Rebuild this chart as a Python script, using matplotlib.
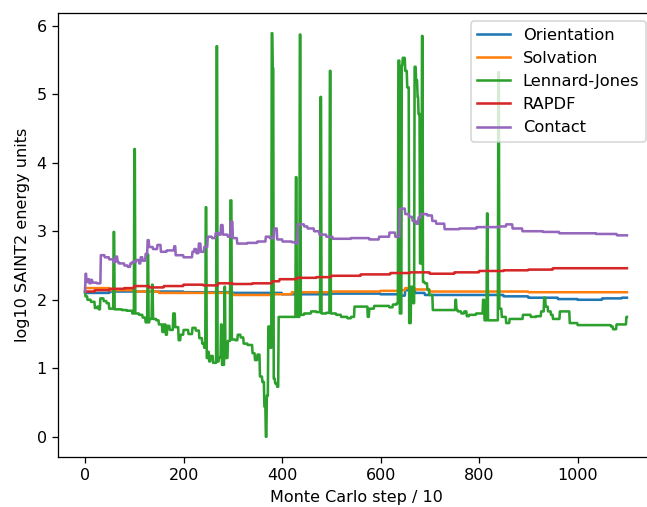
import numpy as np
import matplotlib
matplotlib.use("Agg")
import matplotlib.pyplot as plt

steps = np.arange(0, 1101)

# (step, value) breakpoints; the value is held until the next breakpoint
orientation_bp = [(0, 2.10), (50, 2.12), (200, 2.11), (300, 2.10), (400, 2.08), (500, 2.09),
                  (600, 2.08), (640, 2.06), (650, 2.14), (660, 2.15), (670, 2.10), (690, 2.07),
                  (850, 2.05), (900, 2.03), (960, 2.01), (1000, 2.00), (1050, 2.02), (1090, 2.03)]
solvation_bp = [(0, 2.17), (50, 2.14), (100, 2.12), (150, 2.10), (300, 2.07), (380, 2.08),
                (420, 2.11), (500, 2.12), (600, 2.13), (640, 2.14), (650, 2.17), (670, 2.15),
                (700, 2.12), (900, 2.11)]
lj_bp = [(0, 2.12), (1, 2.05), (5, 2.00), (12, 1.97), (20, 1.88), (25, 1.90), (28, 1.86),
         (31, 2.02), (38, 1.98), (44, 1.95), (49, 1.87), (58, 2.99), (60, 1.86), (75, 1.85),
         (85, 1.84), (96, 1.80), (100, 4.20), (102, 1.80), (110, 1.78), (117, 1.74), (123, 1.67),
         (127, 2.66), (129, 1.67), (131, 1.72), (136, 2.22), (138, 1.72), (145, 1.70), (150, 1.64),
         (157, 1.53), (160, 1.64), (164, 1.49), (167, 1.62), (172, 1.56), (179, 1.80), (183, 1.60),
         (190, 1.41), (194, 1.49), (200, 1.56), (210, 1.50), (218, 1.59), (225, 1.55), (232, 1.44),
         (238, 1.36), (242, 1.30), (245, 3.35), (247, 1.15), (250, 1.24), (252, 1.10), (255, 1.18),
         (260, 1.08), (267, 5.70), (269, 1.10), (272, 1.16), (276, 1.64), (278, 1.05), (283, 2.19),
         (285, 1.15), (290, 1.40), (295, 3.45), (298, 1.42), (305, 1.41), (310, 1.49), (316, 1.45),
         (322, 1.36), (330, 1.34), (340, 1.22), (345, 1.12), (350, 1.20), (355, 0.88), (360, 0.80),
         (364, 0.44), (367, 0.00), (369, 0.60), (372, 1.61), (376, 1.30), (379, 5.89), (381, 5.38),
         (383, 0.85), (386, 0.78), (390, 0.73), (393, 1.75), (428, 3.79), (430, 1.75), (436, 5.87),
         (438, 1.78), (445, 1.80), (459, 1.83), (470, 1.82), (478, 4.96), (480, 1.80), (490, 1.81),
         (497, 5.34), (499, 1.80), (510, 1.78), (520, 1.75), (533, 1.73), (540, 1.75), (547, 1.90),
         (574, 1.75), (577, 1.87), (587, 1.91), (618, 1.89), (625, 1.93), (633, 1.95), (636, 5.49),
         (639, 1.80), (643, 5.42), (645, 5.53), (650, 5.34), (654, 5.10), (658, 1.66), (662, 2.19),
         (666, 1.95), (669, 5.40), (672, 5.20), (675, 4.96), (677, 4.71), (680, 2.53), (684, 5.85),
         (686, 2.26), (690, 2.24), (695, 2.15), (699, 2.07), (706, 1.85), (752, 2.00), (754, 1.85),
         (757, 1.83), (764, 1.80), (770, 1.83), (775, 1.76), (780, 1.78), (794, 1.80), (808, 2.00),
         (811, 1.70), (816, 3.26), (818, 1.70), (839, 5.32), (841, 1.87), (846, 1.75), (855, 1.66),
         (862, 1.72), (880, 1.72), (889, 1.78), (905, 1.75), (916, 1.76), (926, 1.83), (932, 2.03),
         (935, 1.90), (940, 1.83), (946, 1.78), (950, 1.72), (964, 1.83), (984, 1.66), (1000, 1.63),
         (1068, 1.61), (1072, 1.57), (1079, 1.64), (1099, 1.75)]
rapdf_bp = [(0, 2.12), (20, 2.14), (50, 2.16), (80, 2.17), (100, 2.20), (130, 2.18), (160, 2.20),
            (200, 2.22), (240, 2.21), (270, 2.24), (300, 2.23), (340, 2.24), (380, 2.27), (395, 2.30),
            (430, 2.32), (470, 2.33), (500, 2.35), (560, 2.37), (620, 2.39), (660, 2.40), (700, 2.38),
            (750, 2.40), (800, 2.42), (850, 2.43), (900, 2.44), (950, 2.46)]
contact_bp = [(0, 2.12), (1, 2.38), (3, 2.26), (6, 2.30), (9, 2.24), (12, 2.29), (15, 2.25), (24, 2.24),
              (32, 2.65), (40, 2.62), (49, 2.59), (58, 2.55), (62, 2.63), (66, 2.55), (69, 2.53),
              (80, 2.50), (87, 2.48), (92, 2.53), (96, 2.55), (104, 2.58), (110, 2.53), (113, 2.62),
              (117, 2.57), (123, 2.67), (127, 2.87), (130, 2.77), (138, 2.74), (147, 2.80), (154, 2.70),
              (166, 2.72), (181, 2.78), (184, 2.65), (200, 2.62), (218, 2.70), (222, 2.74), (226, 2.68),
              (231, 2.82), (235, 2.70), (242, 2.77), (249, 2.92), (258, 2.90), (265, 2.97), (272, 2.95),
              (276, 3.09), (280, 2.95), (290, 2.92), (296, 3.14), (300, 2.90), (309, 2.82), (330, 2.83),
              (350, 2.85), (367, 2.92), (375, 2.90), (384, 3.04), (390, 2.88), (401, 2.85), (420, 2.84),
              (428, 2.82), (432, 3.10), (445, 3.07), (452, 3.04), (465, 3.00), (476, 2.95), (490, 2.92),
              (503, 2.89), (540, 2.90), (577, 2.88), (597, 2.92), (618, 2.98), (630, 2.92), (639, 3.33),
              (650, 3.25), (658, 3.21), (665, 3.15), (672, 3.11), (677, 3.20), (682, 3.25), (695, 3.23),
              (705, 3.15), (713, 3.11), (730, 3.03), (760, 3.04), (795, 3.06), (841, 3.07), (855, 3.10),
              (868, 3.04), (888, 3.00), (930, 2.99), (963, 2.97), (1038, 2.96), (1080, 2.94)]

labels = ["Orientation", "Solvation", "Lennard-Jones", "RAPDF", "Contact"]


def hold(bp):
    xs = np.array([b[0] for b in bp])
    vs = np.array([b[1] for b in bp])
    idx = np.searchsorted(xs, steps, side="right") - 1
    return vs[idx]


series = [hold(b) for b in (orientation_bp, solvation_bp, lj_bp, rapdf_bp, contact_bp)]

dpi = 115
fig = plt.figure(figsize=(647 / dpi, 507 / dpi), dpi=dpi)
ax = fig.add_axes([58 / 647, 50 / 507, (654 - 58) / 647, (457 - 13) / 507])
for y, lab in zip(series, labels):
    ax.plot(steps, y, label=lab, linewidth=1.6)
ax.set_xlabel("Monte Carlo step / 10")
ax.set_ylabel("log10 SAINT2 energy units")
ax.legend(loc="upper right", fontsize=10.2)
fig.savefig("out.png", dpi=dpi)
